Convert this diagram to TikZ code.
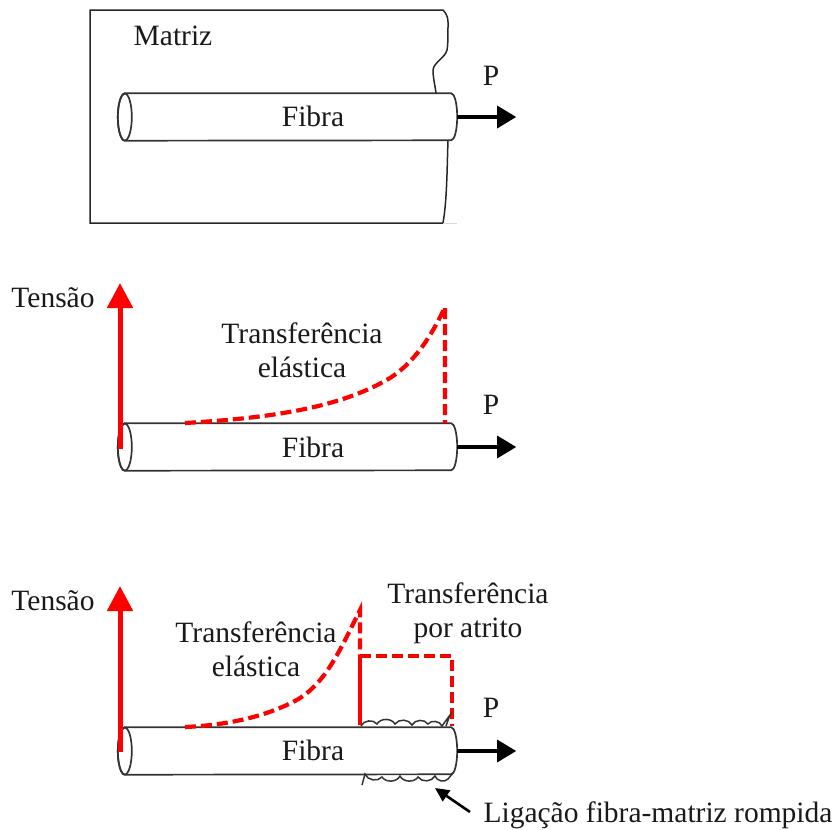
\documentclass[tikz,border=0pt]{standalone}
\usepackage{fontspec}
\setmainfont{Liberation Serif}
\usetikzlibrary{arrows.meta}

\begin{document}
\begin{tikzpicture}[x=1pt, y=-1pt,
    every node/.style={font=\fontsize{29.5}{34}\selectfont, inner sep=0pt, align=center, text=black!90},
    fiberbox/.style={minimum width=326pt, minimum height=47pt},
    fiberline/.style={draw=black!80, line width=1.7pt, fill=white},
    pull/.style={-{Triangle[length=19pt, width=22pt]}, line width=3.2pt},
    axis/.style={-{Triangle[length=25pt, width=25pt]}, red, line width=5pt},
    dashcurve/.style={red, line width=4.2pt, dash pattern=on 11pt off 5pt},
    rough/.style={black!80, line width=1.5pt}]
    \useasboundingbox (0,0) rectangle (833,830);
    % matrix
    \draw[black!85, line width=1.5pt] (443,223) -- (90,223) -- (90,10) -- (443,10)
      .. controls (446,13) and (448,17) .. (448,22) .. controls (448,35) and (448,45) .. (447,50)
      .. controls (445,58) and (434,62) .. (433,70) .. controls (433,78) and (435,85) .. (436,93);
    \draw[black!85, line width=1.5pt] (448,140) .. controls (447,170) and (447,200) .. (443,223);
    \draw[black!15, line width=1pt] (443,223) -- (457,223);
    % fibers
    \foreach \name/\ypos in {fibraA/117, fibraB/447, fibraC/751} {
      \node[fiberbox] (\name) at (288,\ypos) {};
      \draw[fiberline] (\name.north west) -- (\name.north east)
        arc[start angle=90, end angle=-90, x radius=6pt, y radius=23.5pt]
        -- (\name.south west) arc[start angle=-90, end angle=-270, x radius=7pt, y radius=23.5pt] -- cycle;
      \draw[fiberline, fill=none] (\name.west) ellipse[x radius=7pt, y radius=23.5pt];
      \coordinate (\name tip) at ([xshift=6pt]\name.east);
      \coordinate (\name end) at ([xshift=65pt]\name.east);
      \draw[pull] (\name tip) -- (\name end);
    }
    \node (labelA) at (313,116) {Fibra};
    \node (labelB) at (313,447) {Fibra};
    \node (labelC) at (313,750) {Fibra};
    \node (matriz) at (173,36) {Matriz};
    \node (forceA) at (491,76) {P};
    \node (forceB) at (491,405) {P};
    \node (forceC) at (491,708) {P};
    % stress axes
    \coordinate (baseB) at (120,449);
    \coordinate (tipB) at (120,283);
    \coordinate (baseC) at (120,752);
    \coordinate (tipC) at (120,586);
    \draw[axis] (baseB) -- (tipB);
    \draw[axis] (baseC) -- (tipC);
    \node (tensaoB) at (53,298) {Tensão};
    \node (tensaoC) at (53,601) {Tensão};
    % elastic only
    \coordinate (startB) at (185,423);
    \coordinate (peakB) at (445,307);
    \coordinate (footB) at (445,423);
    \draw[dashcurve] (startB) .. controls (270,418) and (340,408) .. (390,378)
      .. controls (415,362) and (432,335) .. (peakB) -- (footB);
    \node (elasticB) at (302,350) {Transferência\\elástica};
    % elastic and friction
    \coordinate (startC) at (185,727);
    \coordinate (peakC) at (360,610);
    \coordinate (kneeC) at (360,656);
    \coordinate (footC) at (360,725);
    \coordinate (cornerC) at (452,656);
    \coordinate (rightC) at (452,726);
    \draw[dashcurve] (startC) .. controls (230,725) and (265,716) .. (293,702)
      .. controls (325,686) and (340,650) .. (peakC) -- (kneeC);
    \draw[red, line width=4.5pt] (kneeC) -- (footC);
    \draw[dashcurve] (kneeC) -- (cornerC) -- (rightC);
    \node (elasticC) at (256,649) {Transferência\\elástica};
    \node (atrito) at (468,613) {Transferência\\por atrito};
    % broken bond
    \draw[rough, bend left=60] (361,726) to (377,724) to (395,724) to (412,725) to (428,724) to (442,726) -- (450,715) -- (446,726);
    \draw[rough, bend right=60] (362,785) -- (365,774) to (382,777) to (400,776) to (418,777) to (435,776) to (448,779) -- (453,773);
    \node (ligacao) at (658,815) {Ligação fibra-matriz rompida};
    \coordinate (bondC) at (435,788);
    \draw[-{Triangle[length=14pt, width=13pt]}, line width=2.6pt] (470,812) -- (bondC);
\end{tikzpicture}
\end{document}
